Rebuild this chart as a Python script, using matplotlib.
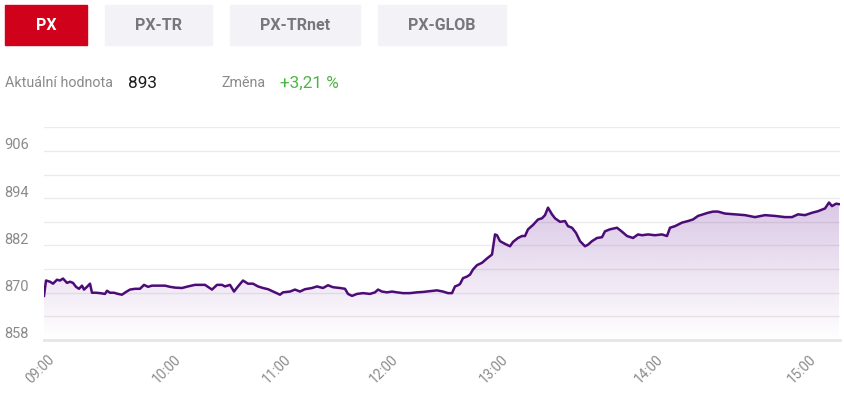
import matplotlib.pyplot as plt
import numpy as np
from matplotlib.patches import Rectangle
from matplotlib.transforms import ScaledTranslation

plt.rcParams["font.family"] = ["Roboto", "DejaVu Sans"]

# ordinal position of each sampled trade and the index value there
pos = [0, 2, 6, 9, 13, 16, 19, 23, 26, 29, 32, 35, 38, 40, 43, 46, 48, 52, 56, 61,
       63, 66, 70, 74, 78, 82, 86, 91, 96, 100, 104, 108, 112, 116, 121, 126, 131, 138,
       144, 151, 161, 168, 173, 178, 181, 186, 190, 194, 199, 204, 209, 214, 219, 224,
       231, 236, 239, 246, 251, 256, 261, 268, 273, 279, 284, 289, 296, 301, 304, 308,
       313, 319, 326, 331, 334, 338, 343, 348, 353, 359, 366, 373, 379, 386, 393, 399,
       404, 408, 411, 414, 416, 419, 423, 426, 429, 433, 438, 443, 448, 451, 453, 456,
       461, 466, 469, 474, 478, 481, 484, 489, 494, 498, 501, 504, 508, 511, 516, 521,
       524, 528, 532, 536, 541, 544, 548, 553, 558, 561, 566, 573, 578, 583, 589, 594,
       598, 604, 611, 618, 623, 626, 631, 638, 644, 649, 654, 659, 664, 669, 674, 681,
       691, 701, 711, 721, 731, 741, 748, 754, 761, 768, 774, 781, 785, 788, 792, 795]
px_value = [869.2, 873.1, 872.8, 872.3, 873.3, 873.1, 873.6, 872.5, 872.8, 872.5, 871.5,
            871.0, 871.8, 870.8, 871.5, 872.3, 870.0, 870.0, 869.9, 869.7, 870.5, 870.0,
            870.0, 869.7, 869.5, 870.2, 870.8, 871.0, 871.0, 872.0, 871.5, 871.8, 871.8,
            871.8, 871.8, 871.5, 871.3, 871.2, 871.6, 872.0, 872.0, 870.8, 872.0, 872.0,
            871.6, 872.0, 870.3, 871.6, 873.1, 872.3, 872.3, 871.6, 871.2, 870.9, 870.1,
            869.5, 870.1, 870.3, 870.8, 870.3, 870.9, 871.2, 871.6, 871.2, 871.9, 871.4,
            871.2, 871.0, 869.7, 869.2, 869.7, 869.9, 869.7, 870.1, 870.8, 870.3, 870.1,
            870.3, 870.1, 869.9, 869.9, 870.1, 870.2, 870.4, 870.6, 870.3, 869.9, 869.9,
            871.6, 871.9, 872.2, 873.7, 874.1, 874.6, 875.9, 877.0, 877.6, 878.7, 879.7,
            884.8, 884.6, 883.1, 882.4, 881.8, 882.9, 883.9, 884.4, 884.4, 886.1, 887.2,
            888.6, 888.9, 889.7, 891.6, 889.9, 888.9, 888.0, 888.2, 886.9, 886.5, 885.2,
            883.1, 881.8, 882.2, 883.1, 883.9, 884.1, 885.6, 886.1, 886.5, 885.5, 884.4,
            883.9, 884.8, 884.6, 884.8, 884.6, 884.8, 884.4, 886.5, 886.9, 887.8, 888.2,
            888.6, 889.5, 889.9, 890.3, 890.6, 890.6, 890.1, 889.9, 889.7, 889.2, 889.7,
            889.5, 889.2, 889.2, 889.9, 889.7, 890.3, 890.7, 891.4, 892.9, 892.0, 892.6,
            892.5]

hour_pos = [0, 127, 237, 344, 454, 609, 762]
hour_labels = ["09:00", "10:00", "11:00", "12:00", "13:00", "14:00", "15:00"]
grid_values = [858, 864, 870, 876, 882, 888, 894, 900, 906, 912]
label_values = [858, 870, 882, 894, 906]

tabs = ["PX", "PX-TR", "PX-TRnet", "PX-GLOB"]
tab_left = [5, 105, 230, 378]
tab_right = [87, 212, 360, 506]

W, H = 844, 394
fig = plt.figure(figsize=(W / 100, H / 100), dpi=100)


def fx(x):
    return x / W


def fy(y):
    return 1 - y / H


# tab buttons
for i, name in enumerate(tabs):
    active = i == 0
    fig.patches.append(Rectangle((fx(tab_left[i]), fy(45)), fx(tab_right[i] - tab_left[i]), 40 / H,
                                 transform=fig.transFigure, color="#d0011b" if active else "#f3f3f7",
                                 zorder=0))
    fig.text(fx((tab_left[i] + tab_right[i]) / 2), fy(25), name, ha="center", va="center",
             fontsize=11.5, fontweight="bold", color="white" if active else "#77777f")

fig.text(fx(5), fy(83), "Aktuální hodnota", ha="left", va="center", fontsize=10.3, color="#8a8a8a")
fig.text(fx(128), fy(83), "893", ha="left", va="center", fontsize=12.3, color="#1a1a1a")
fig.text(fx(221), fy(83), "Změna", ha="left", va="center", fontsize=10.3, color="#8a8a8a")
fig.text(fx(280), fy(83), "+3,21 %", ha="left", va="center", fontsize=12.3, color="#4bb543")

ax = fig.add_axes([fx(44), fy(340), fx(840 - 44), (340 - 127.3) / H])
ax.set_xlim(0, 796)
ax.set_ylim(858, 912)

# gradient area under the line
x = np.array(pos)
y = np.array(px_value)
poly = ax.fill_between(x, y, 858, color="none", lw=0)
grad = np.linspace(0, 1, 256).reshape(-1, 1)
rgba = np.zeros((256, 1, 4))
rgba[..., 0] = 106 / 255
rgba[..., 1] = 30 / 255
rgba[..., 2] = 150 / 255
rgba[..., 3] = 0.38 * grad
img = ax.imshow(rgba, extent=[0, 796, 858, 912], origin="lower", aspect="auto", zorder=1)
img.set_clip_path(poly.get_paths()[0], transform=ax.transData)
ax.plot(x, y, color="#4b0c77", lw=1.8, zorder=3, solid_joinstyle="round")

ax.set_yticks(grid_values)
ax.set_yticklabels([str(v) if v in label_values else "" for v in grid_values])
ax.grid(axis="y", color="#ebebeb", lw=1)
ax.set_xticks(hour_pos)
ax.set_xticklabels(hour_labels, rotation=45, ha="right", rotation_mode="anchor")
ax.tick_params(axis="both", length=0, colors="#8a8a8a")
ax.tick_params(axis="y", labelsize=10.5, pad=11)
ax.tick_params(axis="x", labelsize=9.8, pad=9)
for lab in ax.get_yticklabels():
    lab.set_transform(lab.get_transform() + ScaledTranslation(0, 0.07, fig.dpi_scale_trans))
for lab in ax.get_xticklabels():
    lab.set_transform(lab.get_transform() + ScaledTranslation(0.03, 0, fig.dpi_scale_trans))
for s in ["top", "left", "right"]:
    ax.spines[s].set_visible(False)
ax.spines["bottom"].set_color("#e6e6e6")
ax.spines["bottom"].set_linewidth(2)
ax.set_axisbelow(True)

fig.savefig("out.png", dpi=100)
